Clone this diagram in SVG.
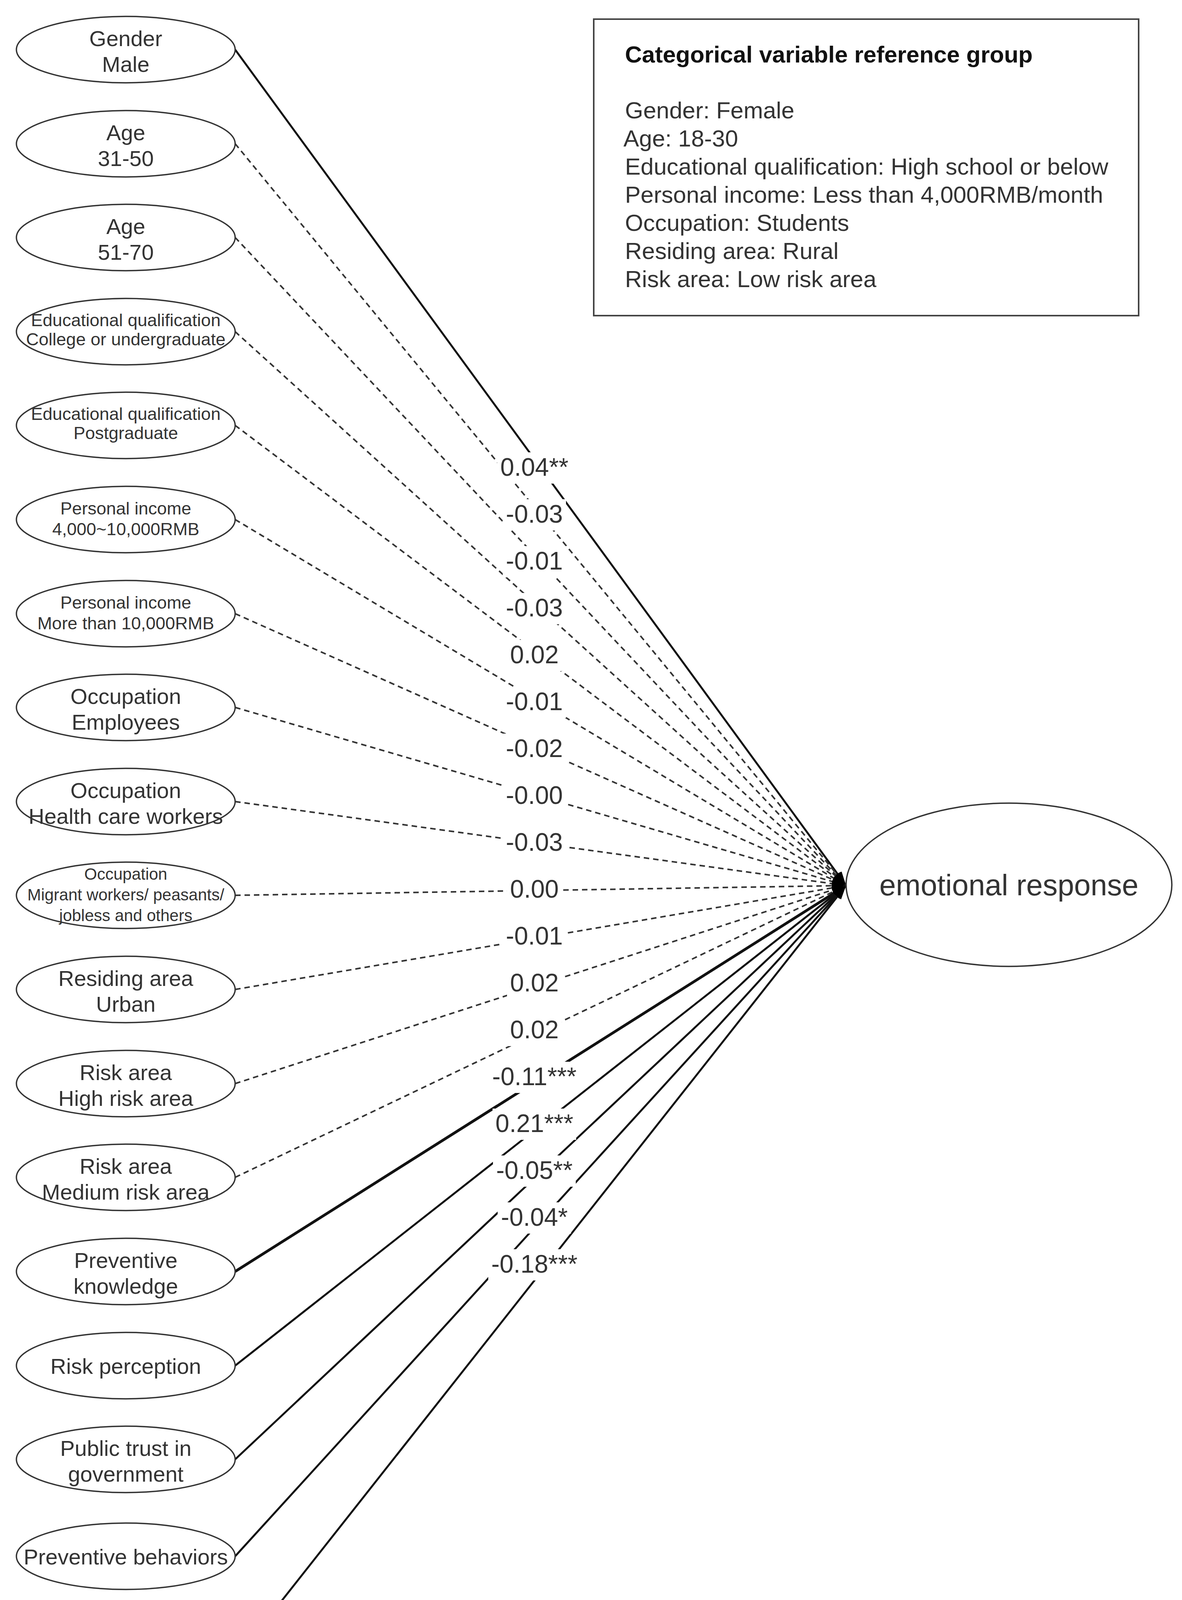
<svg xmlns="http://www.w3.org/2000/svg" width="3026" height="4357" viewBox="0 0 3026 4357">
<style>
text{font-family:"Liberation Sans",Arial,sans-serif;fill:#333}
.n ellipse{fill:#fff;stroke:#333;stroke-width:3.5}
.t56{font-size:56px;text-anchor:middle}
.t45{font-size:45px;text-anchor:middle}
.t42{font-size:42px;text-anchor:middle}
.e{stroke:#111;fill:none}
.d{stroke-width:4;stroke-dasharray:14 10;stroke:#333}
.s{stroke-width:5}
.lb{font-size:64px;text-anchor:middle}
.bg{fill:#fff}
.lg{font-size:60px}
</style>
<defs>
<marker id="ah" markerUnits="userSpaceOnUse" markerWidth="40" markerHeight="40" viewBox="0 0 40 40" refX="36" refY="20" orient="auto">
<path d="M0,8 L36,20 L0,32 Z" fill="#000"/>
</marker>
</defs>
<rect width="3026" height="4357" fill="#fff"/>
<g id="connectors">
<line class="e s" x1="602" y1="127" x2="2166" y2="2267" marker-end="url(#ah)"/>
<line class="e d" x1="602" y1="368" x2="2166" y2="2267" marker-end="url(#ah)"/>
<line class="e d" x1="602" y1="608" x2="2166" y2="2267" marker-end="url(#ah)"/>
<line class="e d" x1="602" y1="849" x2="2166" y2="2267" marker-end="url(#ah)"/>
<line class="e d" x1="602" y1="1089" x2="2166" y2="2267" marker-end="url(#ah)"/>
<line class="e d" x1="602" y1="1330" x2="2166" y2="2267" marker-end="url(#ah)"/>
<line class="e d" x1="602" y1="1571" x2="2166" y2="2267" marker-end="url(#ah)"/>
<line class="e d" x1="602" y1="1811" x2="2166" y2="2267" marker-end="url(#ah)"/>
<line class="e d" x1="602" y1="2052" x2="2166" y2="2267" marker-end="url(#ah)"/>
<line class="e d" x1="602" y1="2292" x2="2166" y2="2267" marker-end="url(#ah)"/>
<line class="e d" x1="602" y1="2533" x2="2166" y2="2267" marker-end="url(#ah)"/>
<line class="e d" x1="602" y1="2774" x2="2166" y2="2267" marker-end="url(#ah)"/>
<line class="e d" x1="602" y1="3014" x2="2166" y2="2267" marker-end="url(#ah)"/>
<line class="e" stroke-width="7" x1="602" y1="3255" x2="2166" y2="2267" marker-end="url(#ah)"/>
<line class="e s" x1="602" y1="3496" x2="2166" y2="2267" marker-end="url(#ah)"/>
<line class="e s" x1="602" y1="3736" x2="2166" y2="2267" marker-end="url(#ah)"/>
<line class="e s" x1="602" y1="3984" x2="2166" y2="2267" marker-end="url(#ah)"/>
<line class="e s" x1="602" y1="4249" x2="2166" y2="2267" marker-end="url(#ah)"/>
</g>
<g id="labels">
<rect class="bg" x="1273" y="1158" width="190" height="80"/><text class="lb" x="1368" y="1218">0.04**</text>
<rect class="bg" x="1287" y="1278" width="162" height="80"/><text class="lb" x="1368" y="1338">-0.03</text>
<rect class="bg" x="1287" y="1398" width="162" height="80"/><text class="lb" x="1368" y="1458">-0.01</text>
<rect class="bg" x="1287" y="1518" width="162" height="80"/><text class="lb" x="1368" y="1578">-0.03</text>
<rect class="bg" x="1298" y="1638" width="140" height="80"/><text class="lb" x="1368" y="1698">0.02</text>
<rect class="bg" x="1287" y="1758" width="162" height="80"/><text class="lb" x="1368" y="1818">-0.01</text>
<rect class="bg" x="1287" y="1878" width="162" height="80"/><text class="lb" x="1368" y="1938">-0.02</text>
<rect class="bg" x="1287" y="1998" width="162" height="80"/><text class="lb" x="1368" y="2058">-0.00</text>
<rect class="bg" x="1287" y="2118" width="162" height="80"/><text class="lb" x="1368" y="2178">-0.03</text>
<rect class="bg" x="1298" y="2238" width="140" height="80"/><text class="lb" x="1368" y="2298">0.00</text>
<rect class="bg" x="1287" y="2358" width="162" height="80"/><text class="lb" x="1368" y="2418">-0.01</text>
<rect class="bg" x="1298" y="2478" width="140" height="80"/><text class="lb" x="1368" y="2538">0.02</text>
<rect class="bg" x="1298" y="2598" width="140" height="80"/><text class="lb" x="1368" y="2658">0.02</text>
<rect class="bg" x="1250" y="2718" width="236" height="80"/><text class="lb" x="1368" y="2778">-0.11***</text>
<rect class="bg" x="1261" y="2838" width="214" height="80"/><text class="lb" x="1368" y="2898">0.21***</text>
<rect class="bg" x="1262" y="2958" width="212" height="80"/><text class="lb" x="1368" y="3018">-0.05**</text>
<rect class="bg" x="1274" y="3078" width="188" height="80"/><text class="lb" x="1368" y="3138">-0.04*</text>
<rect class="bg" x="1250" y="3198" width="236" height="80"/><text class="lb" x="1368" y="3258">-0.18***</text>
</g>
<g id="n0" class="n"><ellipse cx="322" cy="127" rx="280" ry="85"/><text class="t56" x="322" y="118">Gender</text><text class="t56" x="322" y="184">Male</text></g>
<g id="n1" class="n"><ellipse cx="322" cy="368" rx="280" ry="85"/><text class="t56" x="322" y="359">Age</text><text class="t56" x="322" y="425">31-50</text></g>
<g id="n2" class="n"><ellipse cx="322" cy="608" rx="280" ry="85"/><text class="t56" x="322" y="599">Age</text><text class="t56" x="322" y="665">51-70</text></g>
<g id="n3" class="n"><ellipse cx="322" cy="849" rx="280" ry="85"/><text class="t45" x="322" y="835">Educational qualification</text><text class="t45" x="322" y="884">College or undergraduate</text></g>
<g id="n4" class="n"><ellipse cx="322" cy="1089" rx="280" ry="85"/><text class="t45" x="322" y="1075">Educational qualification</text><text class="t45" x="322" y="1124">Postgraduate</text></g>
<g id="n5" class="n"><ellipse cx="322" cy="1330" rx="280" ry="85"/><text class="t45" x="322" y="1317">Personal income</text><text class="t45" x="322" y="1370">4,000~10,000RMB</text></g>
<g id="n6" class="n"><ellipse cx="322" cy="1571" rx="280" ry="85"/><text class="t45" x="322" y="1558">Personal income</text><text class="t45" x="322" y="1611">More than 10,000RMB</text></g>
<g id="n7" class="n"><ellipse cx="322" cy="1811" rx="280" ry="85"/><text class="t56" x="322" y="1802">Occupation</text><text class="t56" x="322" y="1868">Employees</text></g>
<g id="n8" class="n"><ellipse cx="322" cy="2052" rx="280" ry="85"/><text class="t56" x="322" y="2043">Occupation</text><text class="t56" x="322" y="2109">Health care workers</text></g>
<g id="n9" class="n"><ellipse cx="322" cy="2292" rx="280" ry="85"/><text class="t42" x="322" y="2252">Occupation</text><text class="t42" x="322" y="2305">Migrant workers/ peasants/</text><text class="t42" x="322" y="2358">jobless and others</text></g>
<g id="n10" class="n"><ellipse cx="322" cy="2533" rx="280" ry="85"/><text class="t56" x="322" y="2524">Residing area</text><text class="t56" x="322" y="2590">Urban</text></g>
<g id="n11" class="n"><ellipse cx="322" cy="2774" rx="280" ry="85"/><text class="t56" x="322" y="2765">Risk area</text><text class="t56" x="322" y="2831">High risk area</text></g>
<g id="n12" class="n"><ellipse cx="322" cy="3014" rx="280" ry="85"/><text class="t56" x="322" y="3005">Risk area</text><text class="t56" x="322" y="3071">Medium risk area</text></g>
<g id="n13" class="n"><ellipse cx="322" cy="3255" rx="280" ry="85"/><text class="t56" x="322" y="3246">Preventive</text><text class="t56" x="322" y="3312">knowledge</text></g>
<g id="n14" class="n"><ellipse cx="322" cy="3496" rx="280" ry="85"/><text class="t56" x="322" y="3517">Risk perception</text></g>
<g id="n15" class="n"><ellipse cx="322" cy="3736" rx="280" ry="85"/><text class="t56" x="322" y="3727">Public trust in</text><text class="t56" x="322" y="3793">government</text></g>
<g id="n16" class="n"><ellipse cx="322" cy="3984" rx="280" ry="85"/><text class="t56" x="322" y="4005">Preventive behaviors</text></g>
<g id="n17" class="n"><ellipse cx="322" cy="4249" rx="280" ry="85"/><text class="t56" x="322" y="4270">Healthy lifestyle</text></g>
<g id="target" class="n"><ellipse cx="2583" cy="2265" rx="417" ry="209"/><text x="2583" y="2292" font-size="76" text-anchor="middle">emotional response</text></g>
<g id="legend">
<rect x="1520" y="49" width="1395" height="759" fill="#fff" stroke="#444" stroke-width="4"/>
<text class="lg" x="1600" y="160" font-weight="bold" fill="#111" style="fill:#111">Categorical variable reference group</text>
<text class="lg" x="1600" y="303">Gender: Female</text>
<text class="lg" x="1596" y="375">Age: 18-30</text>
<text class="lg" x="1600" y="447">Educational qualification: High school or below</text>
<text class="lg" x="1600" y="519">Personal income: Less than 4,000RMB/month</text>
<text class="lg" x="1600" y="591">Occupation: Students</text>
<text class="lg" x="1600" y="663">Residing area: Rural</text>
<text class="lg" x="1600" y="735">Risk area: Low risk area</text>
</g>
</svg>
